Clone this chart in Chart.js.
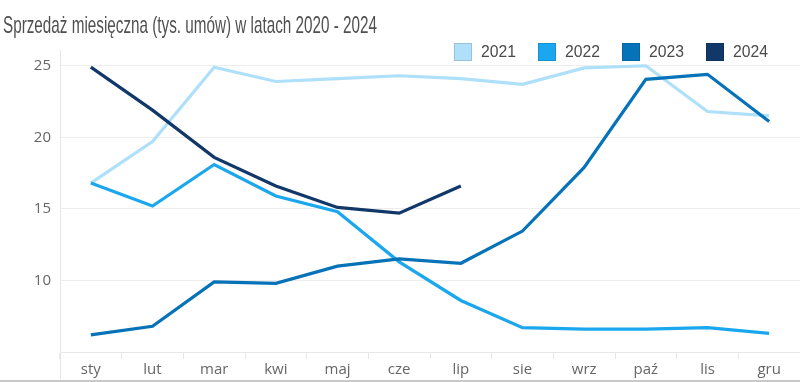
<!DOCTYPE html>
<html>
<head>
<meta charset="utf-8">
<script src="https://cdn.jsdelivr.net/npm/chart.js@4/dist/chart.umd.min.js"></script>
<style>
  html, body { margin: 0; padding: 0; background: #fff; }
  #wrap { width: 800px; height: 382px; position: relative; }
</style>
</head>
<body>
<div id="wrap"><canvas id="salesChart"></canvas></div>
<script>
const titleText = 'Sprzedaż miesięczna (tys. umów) w latach 2020 - 2024'
const months = ['sty', 'lut', 'mar', 'kwi', 'maj', 'cze', 'lip', 'sie', 'wrz', 'paź', 'lis', 'gru']
const yearLabels = ['2021', '2022', '2023', '2024']
const yTicks = [10, 15, 20, 25]

const sales2021 = [16.8, 19.7, 24.9, 23.9, 24.1, 24.3, 24.1, 23.7, 24.85, 25.0, 21.8, 21.5]
const sales2022 = [16.8, 15.2, 18.1, 15.9, 14.8, 11.3, 8.6, 6.7, 6.6, 6.6, 6.7, 6.3]
const sales2023 = [6.2, 6.8, 9.9, 9.8, 11.0, 11.5, 11.2, 13.45, 17.9, 24.05, 24.4, 21.1]
const sales2024 = [24.9, 21.9, 18.6, 16.6, 15.1, 14.7, 16.6]

const lineColors = ['#aee0fa', '#1ba7ee', '#0672b8', '#12386a']

// title, legend and frame bits drawn on top of the canvas
const decorations = {
  id: 'decorations',
  afterDraw(chart) {
    const ctx = chart.ctx
    const area = chart.chartArea
    ctx.save()

    // title, squeezed to the narrow look of the original
    ctx.fillStyle = '#505050'
    ctx.font = '24px "Liberation Sans Narrow", "Liberation Sans", sans-serif'
    ctx.textBaseline = 'alphabetic'
    ctx.textAlign = 'left'
    let w = ctx.measureText(titleText).width
    ctx.translate(3, 33)
    ctx.scale(374 / w, 1)
    ctx.fillText(titleText, 0, 0)
    ctx.setTransform(1, 0, 0, 1, 0, 0)

    // legend
    ctx.font = '17px "Liberation Sans Narrow", "Liberation Sans", sans-serif'
    ctx.textBaseline = 'middle'
    let x = 454
    chart.data.datasets.forEach((ds, i) => {
      ctx.fillStyle = ds.borderColor
      ctx.fillRect(x, 43, 18, 18)
      ctx.strokeStyle = 'rgba(0,0,0,0.12)'
      ctx.lineWidth = 1
      ctx.strokeRect(x + 0.5, 43.5, 17, 17)
      ctx.fillStyle = '#4a4a4a'
      let tw = ctx.measureText(ds.label).width
      ctx.save()
      ctx.translate(x + 27, 52)
      ctx.scale(35 / tw, 1)
      ctx.fillText(ds.label, 0, 0)
      ctx.restore()
      x += 84
    })

    // left frame line running down through the label row
    ctx.strokeStyle = '#e6e6e6'
    ctx.lineWidth = 1
    ctx.beginPath()
    ctx.moveTo(area.left + 0.5, area.top)
    ctx.lineTo(area.left + 0.5, 379)
    ctx.stroke()

    // grey strip at the very bottom
    ctx.fillStyle = '#c9c9c9'
    ctx.fillRect(0, 380, 800, 2)
    ctx.restore()
  }
}

const datasets = [sales2021, sales2022, sales2023, sales2024].map((d, i) => ({
  label: yearLabels[i],
  data: d,
  borderColor: lineColors[i],
  backgroundColor: lineColors[i],
  borderWidth: 3.2,
  pointRadius: 0,
  tension: 0,
  fill: false,
  order: 4 - i
}))

new Chart(document.getElementById('salesChart'), {
  type: 'line',
  data: { labels: months, datasets: datasets },
  options: {
    responsive: true,
    maintainAspectRatio: false,
    animation: false,
    layout: { padding: { top: 50, right: 0, left: 0, bottom: 0 } },
    plugins: {
      legend: { display: false },
      title: { display: false },
      tooltip: { enabled: false }
    },
    scales: {
      x: {
        offset: true,
        grid: { offset: true, drawOnChartArea: false, drawTicks: true, tickLength: 7, color: '#e8e8e8' },
        border: { color: '#e8e8e8' },
        ticks: { color: '#666', padding: 2, font: { family: '"Open Sans", sans-serif', size: 15 }, maxRotation: 0 },
        afterFit(scale) { scale.height = 30 }
      },
      y: {
        min: 5,
        max: 26.1,
        afterBuildTicks(scale) { scale.ticks = yTicks.map(v => ({ value: v })) },
        grid: { color: '#ededed', drawTicks: false },
        border: { display: false },
        ticks: { color: '#666', padding: 9, font: { family: '"Open Sans", sans-serif', size: 15 } },
        afterFit(scale) { scale.width = 60 }
      }
    }
  },
  plugins: [decorations]
})
</script>
</body>
</html>
